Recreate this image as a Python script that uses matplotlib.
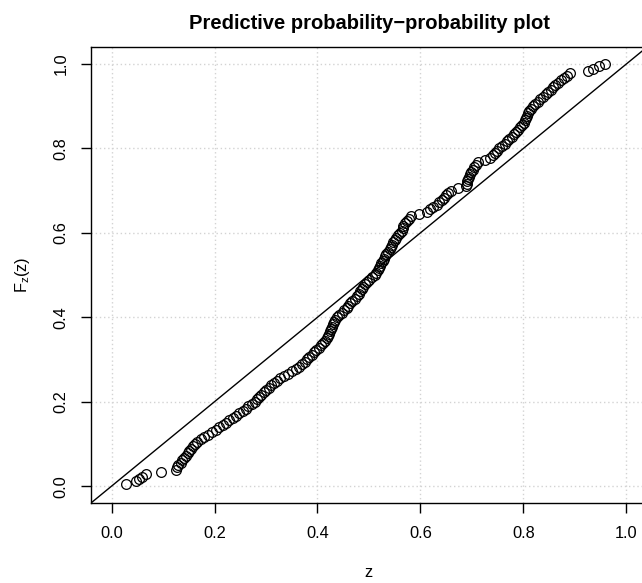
import numpy as np
import matplotlib
matplotlib.use("Agg")
import matplotlib.pyplot as plt

plt.rcParams['font.family'] = ['Liberation Sans', 'DejaVu Sans']

# sorted PIT values z, one per observation
z = [0.029, 0.047, 0.053, 0.059, 0.067, 0.097, 0.126, 0.128, 0.130, 0.134,
     0.137, 0.141, 0.144, 0.148, 0.151, 0.155, 0.158, 0.162, 0.165, 0.173,
     0.180, 0.187, 0.195, 0.202, 0.209, 0.216, 0.222, 0.228, 0.235, 0.241,
     0.248, 0.255, 0.261, 0.266, 0.272, 0.278, 0.282, 0.287, 0.291, 0.296,
     0.300, 0.305, 0.310, 0.315, 0.321, 0.327, 0.334, 0.343, 0.351, 0.358,
     0.365, 0.370, 0.375, 0.380, 0.384, 0.389, 0.394, 0.398, 0.403, 0.407,
     0.411, 0.414, 0.418, 0.420, 0.422, 0.424, 0.426, 0.429, 0.431, 0.433,
     0.435, 0.437, 0.441, 0.447, 0.452, 0.457, 0.460, 0.464, 0.468, 0.472,
     0.476, 0.480, 0.483, 0.486, 0.489, 0.493, 0.496, 0.500, 0.505, 0.511,
     0.514, 0.517, 0.519, 0.522, 0.524, 0.527, 0.529, 0.532, 0.534, 0.537,
     0.540, 0.542, 0.545, 0.547, 0.550, 0.553, 0.557, 0.561, 0.565, 0.566,
     0.567, 0.570, 0.574, 0.577, 0.581, 0.597, 0.612, 0.619, 0.625, 0.632,
     0.636, 0.641, 0.645, 0.650, 0.654, 0.660, 0.673, 0.688, 0.690, 0.691,
     0.693, 0.694, 0.696, 0.699, 0.702, 0.705, 0.708, 0.711, 0.726, 0.736,
     0.740, 0.744, 0.748, 0.753, 0.759, 0.764, 0.769, 0.773, 0.777, 0.781,
     0.785, 0.789, 0.793, 0.797, 0.801, 0.804, 0.805, 0.807, 0.809, 0.811,
     0.815, 0.819, 0.823, 0.828, 0.833, 0.838, 0.843, 0.848, 0.853, 0.857,
     0.862, 0.867, 0.873, 0.879, 0.884, 0.890, 0.925, 0.935, 0.946, 0.958]

ticks = [0.0, 0.2, 0.4, 0.6, 0.8, 1.0]
tick_labels = ["0.0", "0.2", "0.4", "0.6", "0.8", "1.0"]

z = np.sort(np.array(z))
n = len(z)
Fz = np.arange(1, n + 1) / n   # empirical cdf

fig = plt.figure(figsize=(6.42, 5.83), dpi=100)
ax = fig.add_axes([0.1417, 0.1372, 0.866, 0.782])

ax.set_xlim(-0.04, 1.04)
ax.set_ylim(-0.04, 1.04)

# dotted grid at the tick positions
for t in ticks:
    ax.axvline(t, color="#d3d3d3", lw=1.0, ls=(0, (1, 2)), zorder=0)
    ax.axhline(t, color="#d3d3d3", lw=1.0, ls=(0, (1, 2)), zorder=0)

ax.axline((0, 0), slope=1, color="black", lw=1.0, zorder=2)
ax.plot(z, Fz, 'o', ms=7, mfc='none', mec='black', mew=0.9, zorder=3)

ax.set_xticks(ticks)
ax.set_xticklabels(tick_labels)
ax.set_yticks(ticks)
ax.set_yticklabels(tick_labels, rotation=90, va='center')
ax.tick_params(direction='out', length=7, width=1.0, labelsize=11.8, pad=9.5)
ax.tick_params(axis='y', pad=9)
for s in ax.spines.values():
    s.set_linewidth(1.0)
ax.spines['right'].set_visible(False)

ax.set_title("Predictive probability\u2212probability plot",
             fontsize=14.5, fontweight='bold', pad=13)
ax.set_xlabel("z", fontsize=11.8, labelpad=17)
ax.set_ylabel(r"$\mathregular{F_z(z)}$", fontsize=11.8, labelpad=16)

fig.savefig("out.png", dpi=100)
